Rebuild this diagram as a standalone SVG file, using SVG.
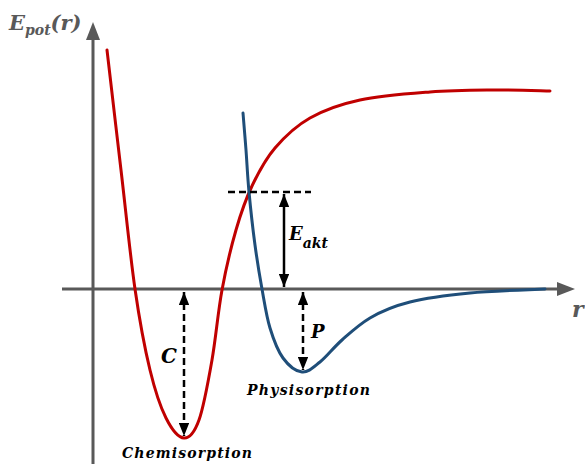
<svg xmlns="http://www.w3.org/2000/svg" width="585" height="464" viewBox="0 0 585 464">
<style>
.axis{stroke:#595959;stroke-width:3;fill:none}
.curve{fill:none;stroke-width:3;stroke-linecap:round}
.dash{stroke:#000;stroke-width:2.5;stroke-dasharray:7 4;fill:none}
.solid{stroke:#000;stroke-width:2.5;fill:none}
.lbl{font-family:"DejaVu Serif","Liberation Serif",serif;font-weight:bold;font-style:italic}
</style>
<defs>
<marker id="ah" viewBox="0 0 10 10" refX="10" refY="5" markerWidth="5.2" markerHeight="4.2" orient="auto-start-reverse" markerUnits="strokeWidth" preserveAspectRatio="none">
<path d="M0,0 L10,5 L0,10 Z" fill="#000"/>
</marker>
</defs>
<rect width="585" height="464" fill="#fff"/>
<g id="axes">
<line class="axis" x1="93" y1="464" x2="93" y2="38"/>
<polygon points="93,22 86,40 100,40" fill="#595959"/>
<line class="axis" x1="62" y1="289" x2="558" y2="289"/>
<polygon points="575,289 557,282 557,296" fill="#595959"/>
<text class="lbl" x="9" y="30" font-size="21" fill="#595959">E<tspan font-size="14" dy="5">pot</tspan><tspan dy="-5">(r)</tspan></text>
<text class="lbl" x="572" y="317" font-size="22" fill="#595959">r</text>
</g>
<g id="chemisorption-curve">
<path class="curve" stroke="#C00000" d="M107,50 C109.3,70 116.3,130.2 121,170 C125.7,209.8 130.2,255.7 135,289 C139.8,322.3 144.8,348.5 150,370 C155.2,391.5 160.3,406.7 166,418 C171.7,429.3 178.5,437.7 184,438 C189.5,438.3 194.3,433 199,420 C203.7,407 208.2,381.7 212,360 C215.8,338.3 218,311.7 222,290 C226,268.3 231,247.3 236,230 C241,212.7 245.5,199.7 252,186 C258.5,172.3 265.3,159.3 275,148 C284.7,136.7 295.8,126 310,118 C324.2,110 340,104.3 360,100 C380,95.7 408.3,93.7 430,92 C451.7,90.3 470,90.2 490,90 C510,89.8 540,90.8 550,91"/>
</g>
<g id="physisorption-curve">
<path class="curve" stroke="#1F4E79" d="M243,113 C243.5,119.2 245,136.8 246,150 C247,163.2 247.5,176.2 249,192 C250.5,207.8 252.8,228.8 255,245 C257.2,261.2 259.5,275.2 262,289 C264.5,302.8 266.5,316.5 270,328 C273.5,339.5 277.7,350.7 283,358 C288.3,365.3 295.8,371.3 302,372 C308.2,372.7 313.3,367.3 320,362 C326.7,356.7 333.7,347.3 342,340 C350.3,332.7 358.7,324.7 370,318 C381.3,311.3 393.3,306.2 410,302 C426.7,297.8 447.5,295.2 470,293 C492.5,290.8 532.5,289.7 545,289"/>
</g>
<g id="connectors">
<line class="dash" x1="228" y1="192" x2="311" y2="192"/>
<line class="solid" x1="284" y1="194" x2="284" y2="287" marker-start="url(#ah)" marker-end="url(#ah)"/>
<line class="dash" x1="184" y1="292" x2="184" y2="436" marker-start="url(#ah)" marker-end="url(#ah)"/>
<line class="dash" x1="303" y1="292" x2="303" y2="370" marker-start="url(#ah)" marker-end="url(#ah)"/>
</g>
<g id="labels">
<text class="lbl" x="289" y="240" font-size="18">E<tspan font-size="14" dy="8">akt</tspan></text>
<text class="lbl" x="161" y="363" font-size="20">C</text>
<text class="lbl" x="311" y="338" font-size="18">P</text>
<text class="lbl" x="247" y="395" font-size="14" textLength="123" lengthAdjust="spacing">Physisorption</text>
<text class="lbl" x="122" y="458" font-size="14" textLength="130" lengthAdjust="spacing">Chemisorption</text>
</g>
</svg>
